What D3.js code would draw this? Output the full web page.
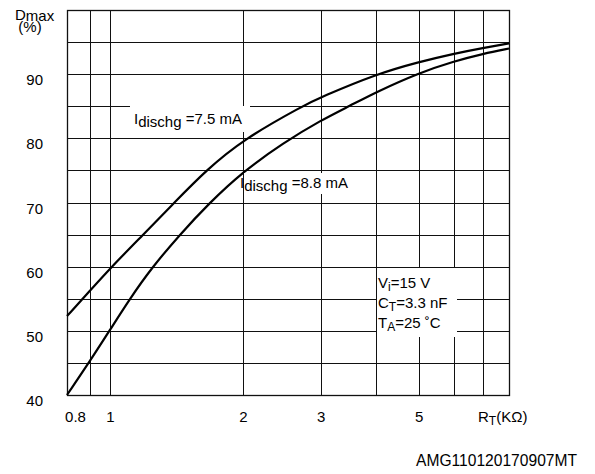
<!DOCTYPE html>
<meta charset="utf-8">
<style>
body { margin: 0; background: #fff; }
text { font-family: "Liberation Sans", Arial, sans-serif; font-size: 15px; fill: #000; }
.grid line { stroke: #111; stroke-width: 1; }
.grid path { display: none; }
.curve { fill: none; stroke: #000; stroke-width: 2.2; }
</style>
<svg width="595" height="474"></svg>
<script src="https://d3js.org/d3.v7.min.js"></script>
<script>

// tick labels and grid positions
var rtTicks = [0.8, 1, 2, 3, 5],
    rtGrid = [0.8, 0.9, 1, 2, 3, 4, 5, 6, 7, 8],
    dTicks = [40, 50, 60, 70, 80, 90],
    dGrid = [40, 45, 50, 55, 60, 65, 70, 75, 80, 85, 90, 95, 100];

// Idischg = 7.5 mA
var rt75 = [0.8, 0.9, 1, 1.19, 1.4, 1.65, 2, 2.74, 3, 4, 5, 6, 7, 8],
    d75  = [52.3, 56.2, 59.7, 65, 70, 75, 79.8, 85.1, 86.4, 90.0, 91.9, 93.2, 94.1, 94.8];

// Idischg = 8.8 mA
var rt88 = [0.8, 0.9, 1, 1.11, 1.243, 1.44, 1.678, 2, 2.47, 3, 3.5, 4, 5, 6, 7, 8],
    d88  = [40, 45.2, 50.1, 55, 59.8, 65, 69.9, 74.8, 79.3, 82.8, 85.1, 87.2, 90.2, 92.0, 93.2, 94.0];

var svg = d3.select("svg"),
    margin = {top: 10, right: 86, bottom: 79, left: 67},
    width = +svg.attr("width") - margin.left - margin.right,
    height = +svg.attr("height") - margin.top - margin.bottom;

var x = d3.scaleLog().domain([0.8, 8]).range([margin.left, margin.left + width]),
    y = d3.scaleLinear().domain([40, 100]).range([margin.top + height, margin.top]);

// rounded copies so the grid lands on whole pixels
var xr = x.copy().interpolate(d3.interpolateRound),
    yr = y.copy().interpolate(d3.interpolateRound);

// grid
svg.append("g")
    .attr("class", "grid")
    .attr("transform", "translate(0," + (margin.top + height) + ")")
    .call(d3.axisBottom(xr).tickValues(rtGrid).tickSize(-height).tickSizeOuter(0).tickFormat(""));

svg.append("g")
    .attr("class", "grid")
    .attr("transform", "translate(" + margin.left + ",0)")
    .call(d3.axisLeft(yr).tickValues(dGrid).tickSize(-width).tickSizeOuter(0).tickFormat(""));

svg.append("rect")
    .attr("x", margin.left + 0.5)
    .attr("y", margin.top + 0.5)
    .attr("width", width)
    .attr("height", height)
    .attr("fill", "none")
    .attr("stroke", "#111")
    .attr("stroke-width", 1.3);

// tick labels
var xAxis = svg.append("g")
    .attr("transform", "translate(0," + (margin.top + height) + ")")
    .call(d3.axisBottom(x).tickValues(rtTicks).tickSize(0).tickPadding(16)
      .tickFormat(function(d) { return d; }));
xAxis.select(".domain").remove();
xAxis.attr("font-size", null).attr("font-family", null);
xAxis.selectAll("text").filter(function(d) { return d === 0.8; }).attr("dx", 8);

var yAxis = svg.append("g")
    .attr("transform", "translate(" + margin.left + ",0)")
    .call(d3.axisLeft(y).tickValues(dTicks).tickSize(0).tickPadding(24));
yAxis.select(".domain").remove();
yAxis.selectAll("text").attr("dy", "0.7em");
yAxis.attr("font-size", null).attr("font-family", null);

// axis titles
var yt = svg.append("text").attr("x", 15).attr("y", 20);
yt.append("tspan").text("D");
yt.append("tspan").attr("dy", 1).text("max");
svg.append("text").attr("x", 30).attr("y", 32).attr("text-anchor", "middle").text("(%)");

var xt = svg.append("text").attr("x", 478).attr("y", 421.5);
xt.append("tspan").text("R");
xt.append("tspan").attr("font-size", 12).attr("dy", 3).text("T");
xt.append("tspan").attr("dy", -3).text("(KΩ)");

// curves
var line = d3.line()
    .x(function(d) { return x(d[0]); })
    .y(function(d) { return y(d[1]); })
    .curve(d3.curveBasis);

svg.append("path")
    .datum(d3.zip(rt75, d75))
    .attr("class", "curve")
    .attr("d", line);

svg.append("path")
    .datum(d3.zip(rt88, d88))
    .attr("class", "curve")
    .attr("d", line);

// curve labels
function subLabel(px, py, main, sub, rest) {
  var t = svg.append("text").attr("x", px).attr("y", py);
  t.append("tspan").text(main);
  t.append("tspan").attr("dy", 3).text(sub);
  t.append("tspan").attr("dy", -3).text(" " + rest);
  return t;
}

svg.append("rect").attr("x", 130).attr("y", 106).attr("width", 120).attr("height", 26).attr("fill", "#fff");
subLabel(134, 124, "I", "dischg", "=7.5 mA");

svg.append("rect").attr("x", 244).attr("y", 173).attr("width", 112).attr("height", 21).attr("fill", "#fff");
subLabel(240, 188, "I", "dischg", "=8.8 mA");

// conditions
svg.append("rect").attr("x", 377).attr("y", 268).attr("width", 80).attr("height", 69).attr("fill", "#fff");
var conds = [["V", "i", "=15 V"], ["C", "T", "=3.3 nF"], ["T", "A", "=25 \u02daC"]];
conds.forEach(function(c, i) {
  var t = svg.append("text").attr("x", 378).attr("y", 288 + i * 20);
  t.append("tspan").text(c[0]);
  t.append("tspan").attr("font-size", 12).attr("dy", 3).text(c[1]);
  t.append("tspan").attr("dy", -3).text(c[2]);
});

svg.append("text")
    .attr("x", 577)
    .attr("y", 466)
    .attr("text-anchor", "end")
    .style("font-size", "15.6px")
    .text("AMG110120170907MT");

</script>
